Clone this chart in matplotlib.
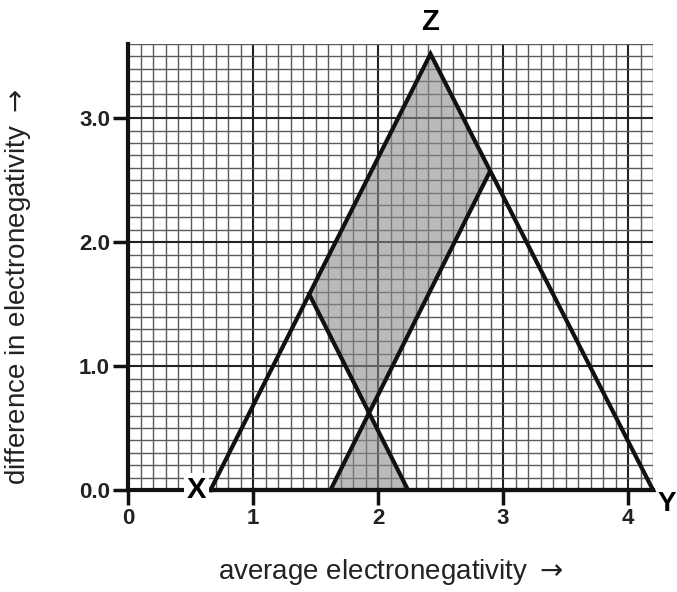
import numpy as np
import matplotlib
matplotlib.use("Agg")
import matplotlib.pyplot as plt

plt.rcParams['font.family'] = ['Liberation Sans', 'DejaVu Sans']

# triangle corners (average EN, difference EN)
tri_x = [0.66, 4.2, 2.42]
tri_y = [0.0, 0.0, 3.52]
# inner dividing lines
line1_x = [1.45, 2.24]
line1_y = [1.58, 0.0]
line2_x = [1.62, 2.89]
line2_y = [0.0, 2.56]
# shaded band (upper part and lower small triangle)
band_x = [2.42, 1.45, 1.93, 2.89]
band_y = [3.52, 1.58, 0.62, 2.56]
low_x = [1.62, 2.24, 1.93]
low_y = [0.0, 0.0, 0.62]

xticks = [0, 1, 2, 3, 4]
yticks = [0.0, 1.0, 2.0, 3.0]
ytick_labels = ["0.0", "1.0", "2.0", "3.0"]

fig = plt.figure(figsize=(6.77, 5.92), dpi=100)
ax = fig.add_axes([128 / 677, 102 / 592, 525 / 677, 446 / 592])
ax.set_xlim(0, 4.2)
ax.set_ylim(0, 3.6)

# graph paper grid
for v in np.arange(0.1, 4.25, 0.1):
    major = abs(v - round(v)) < 1e-6
    ax.axvline(v, color='#222222' if major else '#5a5a5a',
               lw=1.5 if major else 1.0, zorder=1)
for v in np.arange(0.1, 3.65, 0.1):
    major = abs(v - round(v)) < 1e-6
    ax.axhline(v, color='#222222' if major else '#5a5a5a',
               lw=1.5 if major else 1.0, zorder=1)

ax.fill(band_x, band_y, color='#8c8c8c', alpha=0.6, lw=0, zorder=2)
ax.fill(low_x, low_y, color='#8c8c8c', alpha=0.6, lw=0, zorder=2)

ax.plot(tri_x + tri_x[:1], tri_y + tri_y[:1], color='#111111', lw=3,
        solid_joinstyle='miter', zorder=3, clip_on=False)
ax.plot(line1_x, line1_y, color='#111111', lw=3, zorder=3)
ax.plot(line2_x, line2_y, color='#111111', lw=3, zorder=3)

# corner labels
ax.text(0.55, 0.0, "X", fontsize=21, fontweight='bold', ha='center', va='center',
        bbox=dict(facecolor='white', edgecolor='none', pad=2), zorder=6)
ax.text(2.42, 3.78, "Z", fontsize=21, fontweight='bold', ha='center', va='center',
        bbox=dict(facecolor='white', edgecolor='none', pad=5),
        clip_on=False, zorder=6)
ax.text(4.31, -0.11, "Y", fontsize=20, fontweight='bold', ha='center', va='center',
        clip_on=False, zorder=6)

for s in ['top', 'right']:
    ax.spines[s].set_visible(False)
for s in ['left', 'bottom']:
    ax.spines[s].set_linewidth(3)
    ax.spines[s].set_color('#111111')
    ax.spines[s].set_zorder(5)

ax.set_xticks(xticks)
ax.set_yticks(yticks)
ax.set_yticklabels(ytick_labels)
ax.tick_params(length=11, width=2.5, color='#111111', labelsize=16, pad=2)
for lab in ax.get_xticklabels() + ax.get_yticklabels():
    lab.set_fontweight('bold')
    lab.set_color('#222222')

ax.set_xlabel("average electronegativity $\\rightarrow$", fontsize=20, labelpad=20, color='#222222')
ax.set_ylabel("difference in electronegativity $\\rightarrow$", fontsize=20, color='#222222')
ax.yaxis.set_label_coords(-0.18, 0.455)

fig.savefig("out.png", dpi=100)
